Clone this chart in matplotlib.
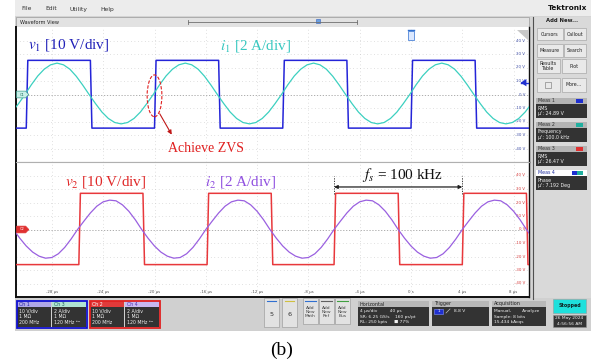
import numpy as np
import matplotlib.pyplot as plt
from matplotlib.patches import Rectangle, Ellipse, Polygon
import matplotlib.transforms as mtrans

plt.rcParams['font.family'] = ['DejaVu Sans']
plt.rcParams['mathtext.fontset'] = 'stix'

t_ticks = [-28, -24, -20, -16, -12, -8, -4, 0, 4, 8]
t_labels = ['-28 µs', '-24 µs', '-20 µs', '-16 µs', '-12 µs', '-8 µs', '-4 µs', '0 s', '4 µs', '8 µs']
v_ticks = [40, 30, 20, 10, 0, -10, -20, -30, -40]
v_labels = ['40 V', '30 V', '20 V', '10 V', '0 V', '-10 V', '-20 V', '-30 V', '-40 V']

# square voltages: switching instants (µs), both start low at the left edge
v1_switch = [-30.0, -25.0, -20.0, -15.0, -10.0, -5.0, 0.0, 5.0]
v1_high, v1_low = 25.3, -24.9
v2_switch = [-25.9, -20.9, -15.9, -10.9, -6.0, -1.0, 4.0, 9.0]
v2_high, v2_low = 26.8, -26.0

# one period of each current (A), sampled every 0.5 µs from its rising zero crossing
i1_period = [0.0, 1.45, 2.75, 3.75, 4.4, 4.65, 4.4, 3.75, 2.7, 1.4,
             0.0, -1.35, -2.6, -3.55, -4.15, -4.35, -4.15, -3.55, -2.6, -1.35]
i1_t0 = -0.1
i2_period = [0.0, 1.25, 2.45, 3.45, 4.1, 4.35, 4.25, 3.65, 2.7, 1.45,
             0.0, -1.3, -2.45, -3.35, -3.95, -4.25, -4.15, -3.6, -2.65, -1.4]
i2_t0 = -6.0
sample_step = 0.5

meas = [('Meas 1', 'RMS', "µ': 24.89 V", '#1f2fd0'),
        ('Meas 2', 'Frequency', "µ': 100.0 kHz", '#20b0a0'),
        ('Meas 3', 'RMS', "µ': 26.47 V", '#e03030'),
        ('Meas 4', 'Phase', "µ': 7.192 Deg", '#1f2fd0')]

T0, T1 = -30.8, 9.2
C_V1, C_I1, C_V2, C_I2 = '#2424d8', '#3cd0c0', '#e8383c', '#9a60e0'


def square(switch, lo, hi, rise=0.12):
    t, y, level = [T0 - 1], [lo], lo
    for ts in switch:
        new = hi if level == lo else lo
        t += [ts, ts + rise]
        y += [level, new]
        level = new
    t.append(T1 + 1)
    y.append(level)
    return np.array(t), np.array(y)


def periodic(samples, t0, step):
    period = len(samples) * step
    k0 = np.floor((T0 - t0) / period) - 1
    reps = int(np.ceil((T1 - T0) / period)) + 3
    y = np.append(np.tile(samples, reps), samples[0])
    t = t0 + k0 * period + step * np.arange(len(y))
    return t, y


fig = plt.figure(figsize=(5.94, 3.6), dpi=100)

# screen chrome in pixel coordinates
bg = fig.add_axes([0, 0, 1, 1], zorder=0)
bg.set_xlim(0, 594)
bg.set_ylim(360, 0)
bg.axis('off')


def box(x, y, w, h, fc, ec='none', lw=0.6, ax=bg):
    ax.add_patch(Rectangle((x, y), w, h, facecolor=fc, edgecolor=ec, linewidth=lw))


def txt(x, y, s, size=3.3, color='#202020', ax=bg, **kw):
    ax.text(x, y, s, fontsize=size, color=color, va='center', **kw)


box(15, 0, 576, 331, '#d4d4d4')
box(15, 0, 576, 16, '#ececec')
for x, s in zip([21, 45, 70, 100], ['File', 'Edit', 'Utility', 'Help']):
    txt(x, 9, s, 4.3, '#303030')
txt(587, 8, 'Tektronix', 5.3, '#101010', ha='right', fontweight='bold')

box(16, 17, 513, 10, '#e2e2e2', '#9a9a9a', 0.5)
txt(20, 22, 'Waveform View', 3.6, '#202020')
bg.plot([188, 357], [22, 22], color='#707070', lw=0.6)
bg.plot([188, 188], [20, 24], color='#707070', lw=0.6)
bg.plot([357, 357], [20, 24], color='#707070', lw=0.6)
box(316, 18.5, 4, 4, '#6aa0e0', '#3060c0', 0.4)

# right side panel
box(533, 17, 58, 282, '#d9d9d9')
bg.plot([533, 533], [17, 299], color='#505050', lw=0.8)
txt(562, 21, 'Add New...', 3.8, '#202020', ha='center', fontweight='bold')
buttons = [(537, 28, 26, 12, 'Cursors'), (564, 28, 22, 12, 'Callout'),
           (537, 44, 26, 13, 'Measure'), (564, 44, 22, 13, 'Search'),
           (537, 59, 23, 14, 'Results\nTable'), (562, 59, 24, 14, 'Plot'),
           (537, 78, 23, 14, ''), (562, 78, 24, 14, 'More...')]
for x, y, w, h, s in buttons:
    box(x, y, w, h, '#e9e9e9', '#a8a8a8', 0.5)
    txt(x + w / 2, y + h / 2, s, 3.4, '#202020', ha='center', linespacing=0.9)
box(545, 82, 6, 6, 'none', '#707070', 0.4)
for k, (name, kind, val, col) in enumerate(meas):
    y = 98 + k * 24
    head = '#ffffff' if k == 3 else '#b4b4b4'
    box(536, y, 51, 6, head)
    txt(538, y + 3, name, 3.4, '#1f2fa0' if k == 3 else '#303030')
    if k == 3:
        box(572, y + 1.2, 8, 3.6, '#1f2fd0')
        box(577, y + 1.2, 6, 3.6, '#20b0a0')
    else:
        box(576, y + 1.2, 7, 3.6, col)
    box(536, y + 6, 51, 14, '#333333')
    txt(538, y + 10, kind, 3.4, '#f0f0f0')
    txt(538, y + 16, val, 3.4, '#f0f0f0')

# bottom bar
box(15, 298, 576, 33, '#d0d0d0')
chans = [(17, 'Ch 1', '#b0a8e8', '#2020a0', ['10 V/div', '1 MΩ', '200 MHz']),
         (52, 'Ch 3', '#b0e4d4', '#206060', ['2 A/div', '1 MΩ', '120 MHz ᴮʷ']),
         (90, 'Ch 2', '#e03a3a', '#ffffff', ['10 V/div', '1 MΩ', '200 MHz']),
         (125, 'Ch 4', '#c8b8f0', '#5030b0', ['2 A/div', '1 MΩ', '120 MHz ᴮʷ'])]
for x, name, hc, tc, lines in chans:
    box(x, 301, 34, 6, hc)
    txt(x + 2, 304, name, 3.4, tc)
    box(x, 307, 34, 20, '#333333')
    for j, s in enumerate(lines):
        txt(x + 2, 311 + j * 5.8, s, 3.3, '#f0f0f0')
box(16.5, 300.5, 70.5, 27, 'none', '#1010d0', 1.3)
box(89.5, 300.5, 70.5, 27, 'none', '#e02020', 1.3)
for x, s, c in [(264, '5', '#3070d0'), (282, '6', '#d0c040')]:
    box(x, 298, 15, 29, '#e2e2e2', '#a0a0a0', 0.5)
    bg.plot([x + 3, x + 12], [300.5, 300.5], color=c, lw=0.8)
    txt(x + 7.5, 314, s, 4.6, '#303030', ha='center')
for x, s, c in [(303, 'Add\nNew\nMath', '#3070d0'), (319, 'Add\nNew\nRef', '#606060'),
                (335, 'Add\nNew\nBus', '#40a040')]:
    box(x, 298, 15, 26, '#e2e2e2', '#a0a0a0', 0.5)
    bg.plot([x + 2, x + 13], [300.5, 300.5], color=c, lw=0.8)
    txt(x + 7.5, 312, s, 3.2, '#404040', ha='center', linespacing=0.95)
panels = [(358, 71, 'Horizontal', ['4 µs/div         40 µs', 'SR: 6.25 GS/s    160 ps/pt', 'RL: 250 kpts     ■ 77%']),
          (432, 57, 'Trigger', ['', '', '']),
          (492, 54, 'Acquisition', ['Manual,        Analyze', 'Sample: 8 bits', '15.434 kAcqs'])]
for x, w, head, lines in panels:
    box(x, 301, w, 6, '#b8b8b8')
    txt(x + 2, 304, head, 3.5, '#202020')
    box(x, 307, w, 19, '#333333')
    for j, s in enumerate(lines):
        txt(x + 2, 311 + j * 5.6, s, 3.2, '#f0f0f0')
box(434, 308.5, 9, 5, '#1f2fd0', '#8090ff', 0.4)
txt(438.5, 311, '1', 3.0, '#ffffff', ha='center')
bg.plot([446, 450], [313, 309], color='#c0c0c0', lw=0.5)
txt(454, 311, '8.8 V', 3.2, '#f0f0f0')
box(553, 299, 33, 14, '#1ee0dc', '#90a0a0', 0.4)
txt(569.5, 306, 'Stopped', 3.4, '#102020', ha='center', fontweight='bold')
box(553, 315, 33, 12, '#333333', '#909090', 0.4)
txt(569.5, 318.5, '26 May 2024', 3.2, '#f0f0f0', ha='center')
txt(569.5, 324, '4:56:56 AM', 3.2, '#f0f0f0', ha='center')

fig.text(282 / 594, 1 - 350 / 360, '(b)', fontsize=14, family='Liberation Serif',
         ha='center', va='center')

# ---- waveform panels ----
W = 513 / 594
ax1 = fig.add_axes([16 / 594, 1 - 162 / 360, W, 135 / 360], zorder=2)
ax2 = fig.add_axes([16 / 594, 1 - 297 / 360, W, 135 / 360], zorder=2)
i_scale = 10 / 2  # 10 V/div versus 2 A/div

for ax, vsw, vlo, vhi, vc, ip, it0, ic, lab_c in [
        (ax1, v1_switch, v1_low, v1_high, C_V1, i1_period, i1_t0, C_I1, '#4050a8'),
        (ax2, v2_switch, v2_low, v2_high, C_V2, i2_period, i2_t0, C_I2, '#d84040')]:
    ax.set_xlim(T0, T1)
    ax.set_ylim(-50, 50)
    ax.set_facecolor('white')
    ax.set_xticks([])
    ax.set_yticks([])
    for t in t_ticks:
        ax.axvline(t, color='#c4c4c4', lw=0.5, ls=(0, (1, 4)))
    for v in v_ticks:
        if v != 0:
            ax.axhline(v, color='#c4c4c4', lw=0.5, ls=(0, (1, 4)))
    ax.axhline(0, color='#a0a0a0', lw=0.6, ls=(0, (1.5, 2)))
    tq, yq = square(vsw, vlo, vhi)
    ax.plot(tq, yq, color=vc, lw=1.1, zorder=3)
    ti, yi = periodic(ip, it0, sample_step)
    ax.plot(ti, np.array(yi) * i_scale, color=ic, lw=0.9, zorder=4)
    for v, s in zip(v_ticks, v_labels):
        ax.text(0.992, v, s, transform=mtrans.blended_transform_factory(ax.transAxes, ax.transData),
                fontsize=2.8, color=lab_c, ha='right', va='center')
    for sp in ax.spines.values():
        sp.set_color('#b0b0b0')
        sp.set_linewidth(0.8)
    ax.spines['left'].set_color('#101010')
    ax.spines['left'].set_linewidth(1.4)
    ax.spines['right'].set_color('#101010')
    ax.spines['right'].set_linewidth(1.0)
ax1.spines['top'].set_visible(False)
ax2.spines['bottom'].set_color('#101010')
ax2.spines['bottom'].set_linewidth(1.4)

bt = mtrans.blended_transform_factory(ax2.transData, ax2.transAxes)
for t, s in zip(t_ticks, t_labels):
    ax2.text(t, 0.035, s, transform=bt, fontsize=2.8, color='#505050', ha='center', va='center')

# channel tags on the left
for ax, s, fc, ec in [(ax1, 'C1', '#c8f0e8', '#40a090'), (ax2, 'C2', '#e03030', '#e03030')]:
    ax.add_patch(Polygon([(T0 + 0.05, 2.5), (T0 + 0.75, 2.5), (T0 + 1.0, 0), (T0 + 0.75, -2.5),
                          (T0 + 0.05, -2.5)], closed=True, facecolor=fc, edgecolor=ec,
                         lw=0.5, zorder=6))
    ax.text(T0 + 0.45, 0, s, fontsize=2.6, color='white' if s == 'C2' else '#207060',
            ha='center', va='center', zorder=7)

# trigger markers
ax1.add_patch(Rectangle((-0.25, 40.5), 0.5, 6.5, facecolor='#dbe8ff', edgecolor='#3070d0',
                        lw=0.5, zorder=6))
ax1.plot([-0.25, 0.25], [48, 48], color='#3070d0', lw=1.0, zorder=6)
ax1.add_patch(Polygon([(T1 - 0.2, 11.5), (T1 - 0.2, 6.0), (T1 - 0.65, 8.8)], closed=True,
                      facecolor='#2030d0', zorder=6))
ax1.plot([T1 - 0.6, T1 - 0.1], [8.8, 8.8], color='#2030d0', lw=1.0, zorder=6)
ax1.add_patch(Polygon([(T1 - 0.9, 48), (T1 - 0.02, 48), (T1 - 0.02, 40)], closed=True,
                      facecolor='#c8c8c8', zorder=6))

# annotations
serif = 'Liberation Serif'
ax1.text(-29.9, 36.5, r'$v_1$ [10 V/div]', fontsize=11, color='#2020b8', family=serif,
         va='center')
ax1.text(-14.9, 36.0, r'$i_1$ [2 A/div]', fontsize=11, color='#38c8c0', family=serif,
         va='center')
ax1.add_patch(Ellipse((-20.0, -1.0), 1.15, 31, facecolor='none', edgecolor='#e02020',
                      lw=0.8, ls=(0, (3, 1.5)), zorder=6))
ax1.annotate('', xy=(-18.55, -31.5), xytext=(-19.7, -12.5),
             arrowprops=dict(arrowstyle='-|>', color='#c01818', lw=0.8, mutation_scale=6))
ax1.text(-16.0, -39.8, 'Achieve ZVS', fontsize=10, color='#e02020', family=serif,
         ha='center', va='center')

ax2.text(-26.95, 35.0, r'$v_2$ [10 V/div]', fontsize=11, color='#e02828', family=serif,
         va='center')
ax2.text(-16.1, 35.0, r'$i_2$ [2 A/div]', fontsize=11, color='#9050e0', family=serif,
         va='center')
ax2.text(-3.8, 40.5, r'$f_s$ = 100 kHz', fontsize=11, color='#101010', family=serif,
         va='center')
f_start, f_end = v2_switch[4], v2_switch[6]
for t in (f_start, f_end):
    ax2.plot([t, t], [26, 40], color='#202020', lw=0.6, ls=(0, (1.5, 1.5)), zorder=6)
ax2.annotate('', xy=(f_end, 31.5), xytext=(f_start, 31.5),
             arrowprops=dict(arrowstyle='<|-|>', color='#202020', lw=0.9, mutation_scale=5,
                             shrinkA=0, shrinkB=0), zorder=6)

fig.savefig('out.png', dpi=100)
